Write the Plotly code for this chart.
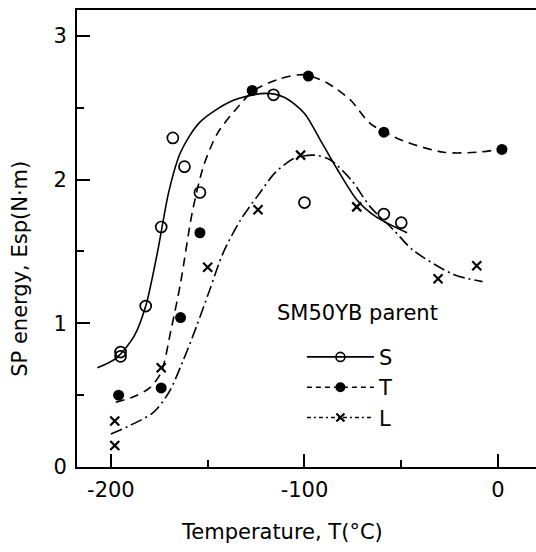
import plotly.graph_objects as go

# Measured SP energy values (N·m) against test temperature (°C)
s_temp = [-195, -195, -182, -174, -168, -162, -154, -116, -100, -59, -50]
s_energy = [0.77, 0.80, 1.12, 1.67, 2.29, 2.09, 1.91, 2.59, 1.84, 1.76, 1.70]

t_temp = [-196, -174, -164, -154, -127, -98, -59, 2]
t_energy = [0.50, 0.55, 1.04, 1.63, 2.62, 2.72, 2.33, 2.21]

l_temp = [-198, -198, -174, -150, -124, -102, -73, -31, -11]
l_energy = [0.32, 0.15, 0.69, 1.39, 1.79, 2.17, 1.81, 1.31, 1.40]

# Hand-fitted trend curves through each series
s_fit_temp = [-207, -197, -188, -182, -176, -170, -164, -154, -137, -120, -110, -100, -92, -83, -73, -63, -47]
s_fit_energy = [0.69, 0.76, 0.91, 1.12, 1.49, 1.92, 2.19, 2.40, 2.55, 2.60, 2.57, 2.46, 2.28, 2.07, 1.86, 1.74, 1.63]

t_fit_temp = [-197.5, -188, -180, -174, -169, -164, -158, -152, -145, -136, -126, -113, -100, -88, -76, -66, -49, -28, -11, 1]
t_fit_energy = [0.45, 0.49, 0.55, 0.66, 0.95, 1.28, 1.77, 2.10, 2.32, 2.48, 2.62, 2.70, 2.73, 2.67, 2.55, 2.39, 2.27, 2.19, 2.19, 2.21]

l_fit_temp = [-200, -190, -178, -170, -163, -156, -149, -142, -133, -124, -115, -105, -95, -87, -76, -66, -54, -44, -23, -8]
l_fit_energy = [0.23, 0.29, 0.38, 0.52, 0.73, 0.97, 1.23, 1.49, 1.72, 1.89, 2.05, 2.15, 2.17, 2.14, 2.00, 1.81, 1.65, 1.51, 1.34, 1.29]

x_ticks = [-200, -100, 0]
x_tick_text = ["-200", "-100", "0"]
y_ticks = [0, 1, 2, 3]
y_tick_text = ["0", "1", "2", "3"]

FONT = "DejaVu Sans"
INK = "black"

T_DASH = "9px,6px"
L_DASH = "12px,4px,2px,4px"
SMOOTH = 0.8

fig = go.Figure()

# Fitted curves
fig.add_trace(go.Scatter(x=s_fit_temp, y=s_fit_energy, mode="lines",
                         line=dict(color=INK, width=1.6, shape="spline", smoothing=SMOOTH),
                         showlegend=False, hoverinfo="skip"))
fig.add_trace(go.Scatter(x=t_fit_temp, y=t_fit_energy, mode="lines",
                         line=dict(color=INK, width=1.6, dash=T_DASH, shape="spline", smoothing=SMOOTH),
                         showlegend=False, hoverinfo="skip"))
fig.add_trace(go.Scatter(x=l_fit_temp, y=l_fit_energy, mode="lines",
                         line=dict(color=INK, width=1.6, dash=L_DASH, shape="spline", smoothing=SMOOTH),
                         showlegend=False, hoverinfo="skip"))

# Measured points
fig.add_trace(go.Scatter(x=s_temp, y=s_energy, mode="markers",
                         marker=dict(symbol="circle-open", size=11, color=INK, line=dict(width=1.7)),
                         showlegend=False))
fig.add_trace(go.Scatter(x=t_temp, y=t_energy, mode="markers",
                         marker=dict(symbol="circle", size=11, color=INK),
                         showlegend=False))
fig.add_trace(go.Scatter(x=l_temp, y=l_energy, mode="markers",
                         marker=dict(symbol="x-thin-open", size=9, color=INK, line=dict(width=2.2, color=INK)),
                         showlegend=False))

# Legend entries (line + marker samples)
fig.add_trace(go.Scatter(x=[None], y=[None], mode="lines+markers", name="S",
                         line=dict(color=INK, width=1.6),
                         marker=dict(symbol="circle-open", size=9, color=INK, line=dict(width=1.6))))
fig.add_trace(go.Scatter(x=[None], y=[None], mode="lines+markers", name="T",
                         line=dict(color=INK, width=1.6, dash="5px,4px"),
                         marker=dict(symbol="circle", size=10, color=INK)))
fig.add_trace(go.Scatter(x=[None], y=[None], mode="lines+markers", name="L",
                         line=dict(color=INK, width=1.6, dash="4px,3px,2px,3px"),
                         marker=dict(symbol="x-thin-open", size=8, color=INK, line=dict(width=2.2, color=INK))))

axis_common = dict(
    showline=True, linecolor=INK, linewidth=1.8,
    ticks="inside", tickcolor=INK, tickwidth=1.8, ticklen=13,
    showgrid=False, zeroline=False,
    tickfont=dict(family=FONT, size=21, color=INK),
)

fig.update_xaxes(
    range=[-217.5, 19.6], tickmode="array", tickvals=x_ticks, ticktext=x_tick_text,
    mirror=True, ticklabelstandoff=3,
    minor=dict(ticks="inside", tickvals=[-150, -50], ticklen=7, tickcolor=INK, tickwidth=1.8),
    **axis_common,
)
fig.update_yaxes(
    range=[0, 3.18], tickmode="array", tickvals=y_ticks, ticktext=y_tick_text,
    ticklabelstandoff=4,
    minor=dict(ticks="inside", tickvals=[0.5, 1.5, 2.5], ticklen=7, tickcolor=INK, tickwidth=1.8),
    **axis_common,
)

fig.add_annotation(text="Temperature, T(°C)", xref="paper", yref="paper",
                   x=0.447, y=-0.142, xanchor="center", yanchor="middle", showarrow=False,
                   font=dict(family=FONT, size=21, color=INK))
fig.add_annotation(text="SP energy, Esp(N·m)", xref="paper", yref="paper",
                   x=-0.125, y=0.433, xanchor="center", yanchor="middle", textangle=-90, showarrow=False,
                   font=dict(family=FONT, size=21, color=INK))
fig.add_annotation(text="SM50YB parent", xref="paper", yref="paper",
                   x=0.431, y=0.337, xanchor="left", yanchor="middle", showarrow=False,
                   font=dict(family=FONT, size=21, color=INK))

fig.update_layout(
    width=536, height=552,
    margin=dict(l=77, r=0, t=10, b=85),
    paper_bgcolor="white", plot_bgcolor="white",
    showlegend=True,
    legend=dict(x=0.49, y=0.285, xanchor="left", yanchor="top",
                bgcolor="rgba(0,0,0,0)", itemwidth=67, tracegroupgap=0,
                font=dict(family=FONT, size=21, color=INK)),
)

fig.write_html("out.html")
